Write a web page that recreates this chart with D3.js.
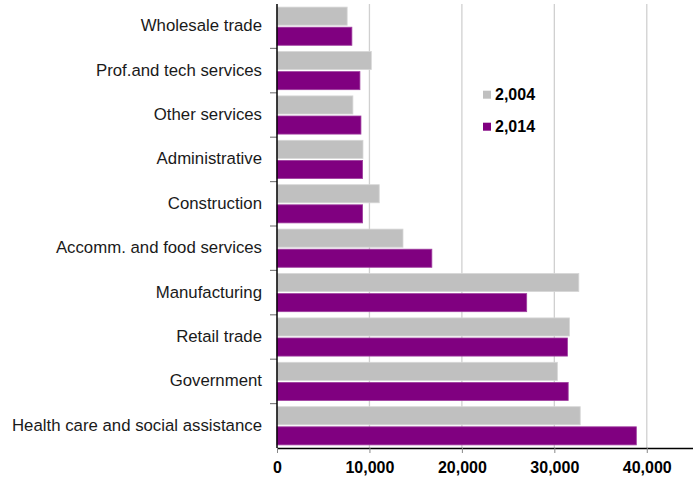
<!DOCTYPE html>
<html>
<head>
<meta charset="utf-8">
<script src="https://cdn.jsdelivr.net/npm/d3@7"></script>
<style>
  body { margin: 0; background: #fff; }
  text { font-family: "Liberation Sans", Arial, sans-serif; }
</style>
</head>
<body>
<svg id="chart" width="700" height="477"></svg>
<script>
// categories, top to bottom
var categories = ["Wholesale trade", "Prof.and tech services", "Other services", "Administrative",
  "Construction", "Accomm. and food services", "Manufacturing", "Retail trade", "Government",
  "Health care and social assistance"];

// series values
var series2004 = [7590, 10200, 8210, 9300, 11060, 13630, 32650, 31640, 30330, 32800];
var series2014 = [8100, 8970, 9080, 9260, 9260, 16750, 27010, 31420, 31500, 38870];

var seriesNames = ["2,004", "2,014"];
var seriesColors = ["#c0c0c0", "#800080"];
var xTicks = [0, 10000, 20000, 30000, 40000];

var margin = {top: 4, right: 7, bottom: 29, left: 277};
var svg = d3.select("#chart");
var w = 700 - margin.left - margin.right;
var h = 477 - margin.top - margin.bottom;

var g = svg.append("g").attr("transform", "translate(" + margin.left + "," + margin.top + ")");

var x = d3.scaleLinear().domain([0, 45000]).range([0, w]);
var y = d3.scaleBand().domain(categories).range([0, h]).paddingInner(0.14).paddingOuter(0.07);
var sub = d3.scaleBand().domain([0, 1]).range([0, y.bandwidth()]).paddingInner(0.1);

// gridlines
g.selectAll(".grid").data(xTicks.slice(1)).enter().append("line")
  .attr("x1", function(d){ return x(d); }).attr("x2", function(d){ return x(d); })
  .attr("y1", 0).attr("y2", h)
  .attr("stroke", "#d0d0d0").attr("stroke-width", 1.3);

// bars
var rows = categories.map(function(c, i){ return {cat: c, vals: [series2004[i], series2014[i]]}; });
var row = g.selectAll(".row").data(rows).enter().append("g")
  .attr("transform", function(d){ return "translate(0," + y(d.cat) + ")"; });
row.selectAll("rect").data(function(d){ return d.vals; }).enter().append("rect")
  .attr("x", 0)
  .attr("y", function(d, j){ return sub(j); })
  .attr("width", function(d){ return x(d); })
  .attr("height", sub.bandwidth())
  .attr("fill", function(d, j){ return seriesColors[j]; })
  .attr("stroke", function(d, j){ return j == 0 ? "#d6d6d6" : "#a040a0"; })
  .attr("stroke-width", 0.8);

// category boundary ticks on the left
g.selectAll(".ytick").data(d3.range(1, categories.length)).enter().append("line")
  .attr("x1", -7).attr("x2", 0)
  .attr("y1", function(i){ return i * h / categories.length; })
  .attr("y2", function(i){ return i * h / categories.length; })
  .attr("stroke", "#808080").attr("stroke-width", 1.2);

// category labels
g.selectAll(".lab").data(categories).enter().append("text")
  .attr("x", -15)
  .attr("y", function(d){ return y(d) + y.bandwidth() / 2 + 5; })
  .attr("text-anchor", "end")
  .attr("font-size", 16.8)
  .attr("fill", "#1a1a1a")
  .text(function(d){ return d; });

// y axis line
g.append("line").attr("x1", 0).attr("x2", 0).attr("y1", 0).attr("y2", h)
  .attr("stroke", "#000").attr("stroke-width", 1.5);

// x axis
var xAxis = g.append("g").attr("transform", "translate(0," + h + ")")
  .call(d3.axisBottom(x).tickValues(xTicks).tickSize(5).tickPadding(9).tickFormat(d3.format(",")));
xAxis.select(".domain").attr("stroke", "#000").attr("stroke-width", 1.5).attr("d", "M0,0.5H" + w);
xAxis.selectAll(".tick line").attr("stroke", "#888");
xAxis.selectAll(".tick text")
  .attr("font-size", 16).attr("font-weight", "bold").attr("fill", "#000")
  .style("font-family", "'Liberation Sans', Arial, sans-serif");

// legend
var legend = svg.append("g").attr("transform", "translate(483,90.7)");
seriesNames.forEach(function(name, i){
  var lg = legend.append("g").attr("transform", "translate(0," + (i * 32) + ")");
  lg.append("rect").attr("x", 0).attr("y", 0).attr("width", 8).attr("height", 8).attr("fill", seriesColors[i]);
  lg.append("text").attr("x", 12).attr("y", 8.8)
    .attr("font-size", 16).attr("font-weight", "bold").attr("fill", "#000").text(name);
});
</script>
</body>
</html>
